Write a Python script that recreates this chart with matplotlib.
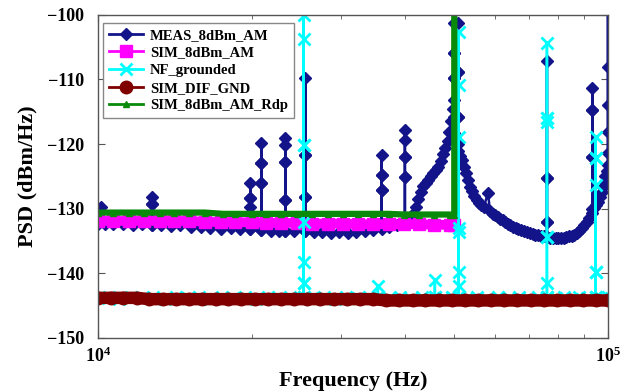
import matplotlib
matplotlib.use("Agg")
import matplotlib.pyplot as plt
from matplotlib.ticker import FixedLocator, FixedFormatter, NullFormatter

plt.rcParams['font.family'] = ['Liberation Serif', 'DejaVu Serif']
plt.rcParams['font.weight'] = 'bold'
plt.rcParams['mathtext.fontset'] = 'custom'
plt.rcParams['mathtext.rm'] = 'Liberation Serif:bold'
plt.rcParams['mathtext.bf'] = 'Liberation Serif:bold'

# MEAS_8dBm_AM (measured PSD, spikes drawn as stacked points at one frequency)
meas_f = [10000, 10150, 10300, 10700, 11200, 11700, 12200,
          12760, 12760, 12760, 12760, 12760,
          13300, 13900, 14500, 15200, 15900, 16600, 17400, 18200, 19000,
          19900, 19900, 19900, 19900, 19900, 19900,
          20900, 20900, 20900, 20900, 20900, 20900, 20900,
          21800, 22600,
          23300, 23300, 23300, 23300, 23300, 23300, 23300, 23300,
          24200,
          25500, 25500, 25500, 25500, 25500, 25500, 25500,
          26500, 27500, 28600, 29700, 30900, 32100, 33400, 34700,
          36000, 36000, 36000, 36000, 36000, 36000, 36000,
          37300, 38600,
          40000, 40000, 40000, 40000, 40000, 40000, 40000, 40000,
          41300, 42000, 42500, 43000, 43500, 44000, 44500, 45000, 45500, 46000,
          46500, 47000, 47500, 48000, 48500, 48900, 49300, 49700,
          50000, 50000, 50000, 50000, 50000, 50000, 50000, 50000,
          50800, 50800, 50800, 50800, 50800, 50800, 50800,
          51200, 51700, 52200, 52600, 53100, 53600, 54100, 54700, 55300, 55900,
          56500, 57100, 58200, 58800, 59500, 60100, 60800,
          61500, 62200, 63000, 63700, 64400, 65200, 66000, 66800, 67600, 68500,
          69400, 70300, 71200, 72100, 73000, 74000, 75000,
          76000, 76000, 76000, 76000, 76000, 76000, 76000,
          77000, 78000, 79000, 80000, 81000, 82000, 83000, 84000, 85000, 86000,
          87000, 88000, 89000, 90000, 91000, 92000,
          93300, 93300, 93300, 93300, 93300, 93300, 93300,
          94200, 95000, 95800, 96500, 97300, 98000, 98600, 99000, 99500,
          100000, 100000, 100000, 100000, 100000, 100000]
meas_v = [-132.3, -129.8, -132.3, -132.4, -132.3, -132.5, -132.4,
          -132.5, -129.3, -128.2, -129.3, -132.5,
          -132.6, -132.7, -132.6, -132.8, -132.9, -133.0, -133.1, -133.0, -133.2,
          -133.2, -129.7, -128.3, -126.0, -128.3, -133.2,
          -133.3, -126.0, -122.9, -119.8, -122.9, -126.0, -133.3,
          -133.4, -133.4,
          -133.4, -128.6, -122.7, -120.1, -119.0, -122.7, -128.6, -133.4,
          -133.5,
          -133.5, -128.2, -121.7, -109.8, -121.7, -128.2, -133.5,
          -133.6, -133.6, -133.7, -133.6, -133.7, -133.6, -133.5, -133.3,
          -133.2, -127.1, -124.8, -121.7, -124.8, -127.1, -133.0,
          -132.8, -132.5,
          -132.3, -125.1, -122.0, -119.4, -117.8, -122.0, -125.1, -132.0,
          -131.0, -129.8, -128.5, -127.4, -126.5, -126.0, -125.5, -125.0, -124.5, -124.0,
          -123.5, -122.6, -121.5, -120.6, -119.5, -118.2, -116.5, -114.5,
          -113.2, -109.8, -105.9, -101.3, -105.9, -109.8, -115.8, -118.3,
          -120.0, -115.8, -108.8, -101.3, -108.8, -115.8, -121.0,
          -121.8, -122.4, -123.6, -124.5, -125.6, -126.6, -127.3, -128.0, -128.6, -129.1,
          -129.5, -129.8, -127.6, -130.4, -130.8, -131.0, -131.3,
          -131.6, -131.8, -132.0, -132.3, -132.5, -132.8, -133.0, -133.1, -133.3, -133.5,
          -133.6, -133.8, -133.9, -134.0, -134.1, -134.2, -134.3,
          -134.4, -132.0, -125.2, -107.2, -125.2, -132.0, -134.4,
          -134.5, -134.5, -134.6, -134.6, -134.6, -134.5, -134.4, -134.3, -134.2, -134.0,
          -133.7, -133.4, -133.0, -132.6, -132.1, -131.5,
          -130.6, -122.0, -114.7, -111.3, -114.7, -122.0, -130.0,
          -129.9, -129.5, -128.9, -128.2, -127.4, -126.6, -125.8, -125.0, -124.2,
          -123.2, -121.4, -118.1, -113.9, -108.0, -98.0]

# SIM_8dBm_AM
sim_f = [10000, 10700, 11500, 12300, 13200, 14100, 15100, 16200, 17400, 18600,
         20000, 21400, 22900, 24600, 26300, 28200, 30200, 32400, 34700, 37200,
         39800, 42700, 45700, 49000, 50000]
sim_v = [-131.9, -131.9, -131.9, -131.9, -131.9, -131.9, -131.9, -132.0, -132.1, -132.1,
         -132.1, -132.2, -132.2, -132.2, -132.3, -132.3, -132.3, -132.4, -132.4, -132.4,
         -132.4, -132.4, -132.5, -132.5, -132.5]

# NF_grounded
nf_f = [10000, 10500, 11000, 11600, 12200, 12800, 13500, 14200, 15000, 15800,
        16600, 17500, 18400, 19400, 20400, 21500, 22600, 23800,
        25300, 25300, 25300, 25300, 25300, 25300, 25300, 25300, 25300, 25300,
        26300, 27700, 29200, 30700, 32300, 34000,
        35400, 35400, 35400,
        37200, 39100, 41100, 43200,
        45800, 45800, 45800,
        47500, 49500,
        51000, 51000, 51000, 51000, 51000, 51000, 51000, 51000, 51000,
        53000, 55500, 58000, 61000, 64000, 67000, 70000, 73000,
        76000, 76000, 76000, 76000, 76000, 76000, 76000, 76000, 76000,
        79000, 82000, 85000, 88000, 91000,
        94700, 94700, 94700, 94700, 94700, 94700, 94700, 94700,
        97000, 100000]
nf_v = [-143.9, -143.6, -144.0, -143.6, -143.9, -143.6, -144.0, -143.6, -143.9, -143.6,
        -144.0, -143.6, -143.9, -143.6, -144.0, -143.6, -143.9, -143.6,
        -143.6, -141.5, -138.2, -132.0, -120.1, -103.7, -100.0, -120.1, -141.5, -143.6,
        -143.9, -143.6, -144.0, -143.6, -143.9, -143.6,
        -143.6, -142.0, -143.6,
        -143.9, -143.6, -144.0, -143.6,
        -143.6, -141.0, -143.6,
        -143.9, -143.6,
        -143.6, -142.0, -139.8, -133.6, -133.0, -118.9, -110.8, -102.6, -143.6,
        -143.9, -143.6, -144.0, -143.6, -143.9, -143.6, -144.0, -143.6,
        -143.6, -141.5, -134.4, -116.6, -116.0, -104.4, -116.0, -134.4, -143.6,
        -143.9, -143.6, -144.0, -143.6, -143.9,
        -143.6, -139.8, -126.3, -122.1, -118.9, -122.1, -139.8, -143.6,
        -143.9, -143.6]

# SIM_DIF_GND
gnd_f = [10000, 10600, 11200, 11900, 12600, 13400, 14200, 15100, 16000, 17000,
         18000, 19100, 20300, 21500, 22800, 24200, 25700, 27300, 29000, 30800,
         32700, 34700, 36800, 39000, 41400, 43900, 46600, 49500, 52500, 55700,
         59100, 62700, 66500, 70600, 74900, 79500, 84300, 89500, 94900, 100000]
gnd_v = [-143.8, -143.8, -143.8, -143.8, -144.0, -144.0, -144.0, -144.0, -144.0, -144.0,
         -144.0, -144.0, -144.0, -144.0, -144.0, -144.0, -144.0, -144.0, -144.0, -144.0,
         -144.0, -144.0, -144.2, -144.2, -144.2, -144.2, -144.2, -144.2, -144.2, -144.2,
         -144.2, -144.2, -144.2, -144.2, -144.2, -144.2, -144.2, -144.2, -144.2, -144.2]

# SIM_8dBm_AM_Rdp
rdp_f = [10000, 10700, 11500, 12300, 13200, 14100, 15100, 16200, 17600, 18600,
         20000, 21400, 22900, 24600, 26300, 28200, 30200, 32400, 34700, 37200,
         39800, 42700, 45700, 49000, 50000, 50000]
rdp_v = [-130.6, -130.6, -130.6, -130.6, -130.6, -130.6, -130.6, -130.6, -130.8, -130.8,
         -130.8, -130.8, -130.8, -130.8, -130.8, -130.8, -130.8, -130.8, -130.8, -130.8,
         -130.9, -130.9, -130.9, -130.9, -130.9, -99.0]

fig = plt.figure(figsize=(6.33, 3.92), dpi=100)
ax = fig.add_axes([0.155, 0.138, 0.805, 0.824])

ax.plot(meas_f, meas_v, color='#14148a', lw=1.8, marker='D', ms=6.5, label='MEAS_8dBm_AM')
ax.plot(sim_f, sim_v, color='#ff00ff', lw=7, marker='s', ms=8, label='SIM_8dBm_AM')
ax.plot(nf_f, nf_v, color='#00ffff', lw=1.8, marker='x', ms=8, mew=2, label='NF_grounded')
ax.plot(gnd_f, gnd_v, color='#800000', lw=9, marker='o', ms=9, label='SIM_DIF_GND')
ax.plot(rdp_f, rdp_v, color='#0a8a0a', lw=4.5, marker='^', ms=4, label='SIM_8dBm_AM_Rdp')

ax.set_xscale('log')
ax.set_xlim(1e4, 1e5)
ax.set_ylim(-150, -100)
ax.xaxis.set_major_locator(FixedLocator([1e4, 1e5]))
ax.xaxis.set_major_formatter(FixedFormatter([r'$\mathbf{10^{4}}$', r'$\mathbf{10^{5}}$']))
ax.xaxis.set_minor_locator(FixedLocator([2e4, 3e4, 4e4, 5e4, 6e4, 7e4, 8e4, 9e4]))
ax.xaxis.set_minor_formatter(NullFormatter())
ax.set_yticks([-150, -140, -130, -120, -110, -100])

ax.tick_params(which='both', direction='in', top=True, right=True, labelsize=13, color='#555555')
ax.tick_params(axis='y', which='major', length=5, pad=10)
ax.tick_params(axis='x', which='major', length=5, pad=6)
ax.tick_params(axis='x', which='minor', length=3)
for s in ax.spines.values():
    s.set_color('#555555')
    s.set_linewidth(1.0)

ax.set_xlabel('Frequency (Hz)', fontsize=16, fontweight='bold', labelpad=4)
ax.set_ylabel('PSD (dBm/Hz)', fontsize=16, fontweight='bold', labelpad=7)

leg = ax.legend(loc='upper left', bbox_to_anchor=(0.01, 0.975), fontsize=10.5,
                fancybox=False, framealpha=1, edgecolor='#888888', handlelength=2.3,
                labelspacing=0.3, borderpad=0.4, handletextpad=0.5, borderaxespad=0)
for h in leg.get_lines():
    h.set_linewidth(2)
leg.get_frame().set_linewidth(1.0)

fig.savefig('out.png', dpi=100)
